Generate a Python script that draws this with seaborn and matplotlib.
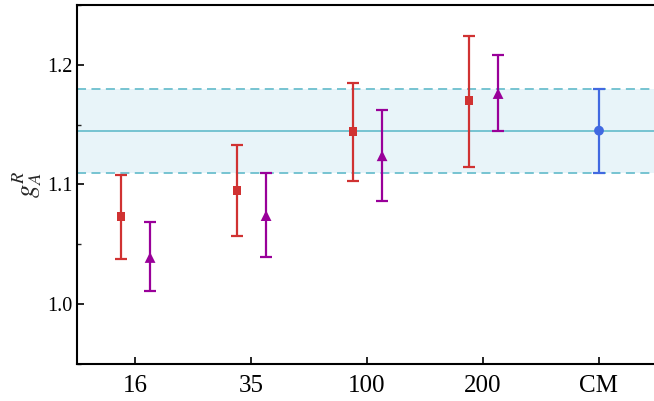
import matplotlib
matplotlib.use("Agg")
import matplotlib.pyplot as plt
import seaborn as sns
import numpy as np
import pandas as pd
from matplotlib.ticker import MultipleLocator

# Data
categories = ["16", "35", "100", "200", "CM"]
sq_val = [1.073, 1.095, 1.144, 1.170]
sq_lo = [1.038, 1.057, 1.103, 1.115]
sq_hi = [1.108, 1.133, 1.185, 1.224]
tri_val = [1.039, 1.074, 1.124, 1.176]
tri_lo = [1.011, 1.039, 1.086, 1.145]
tri_hi = [1.069, 1.110, 1.162, 1.208]
cm_val = [1.145]
cm_lo = [1.110]
cm_hi = [1.180]
band_center = 1.145
band_lo = 1.110
band_hi = 1.180

sns.set_theme(style="ticks")
plt.rcParams["font.family"] = ["Liberation Serif", "DejaVu Serif"]
plt.rcParams["mathtext.fontset"] = "stix"

fig = plt.figure(figsize=(6.54, 4.01), dpi=100)
ax = fig.add_axes([77/654, 37/401, 580/654, 359/401])

red = "#D03232"
purple = "#990099"
blue = "#4169E1"
cyan = "#6CBFCE"

ax.axhspan(band_lo, band_hi, color="#E8F4F9", zorder=0, lw=0)
ax.axhline(band_center, color=cyan, lw=1.3, zorder=1)
ax.axhline(band_lo, color=cyan, lw=1.3, ls=(0, (5, 3)), zorder=1)
ax.axhline(band_hi, color=cyan, lw=1.3, ls=(0, (5, 3)), zorder=1)

xpos = np.arange(len(categories))
xs = xpos[:4] - 0.12
xt = xpos[:4] + 0.13
xc = xpos[4:5]

def err(v, lo, hi):
    v = np.array(v); lo = np.array(lo); hi = np.array(hi)
    return np.vstack([v - lo, hi - v])

ax.errorbar(xs, sq_val, yerr=err(sq_val, sq_lo, sq_hi), fmt="none", ecolor=red,
            elinewidth=1.6, capsize=4, capthick=1.6, zorder=2)
ax.errorbar(xt, tri_val, yerr=err(tri_val, tri_lo, tri_hi), fmt="none", ecolor=purple,
            elinewidth=1.6, capsize=4, capthick=1.6, zorder=2)
ax.errorbar(xc, cm_val, yerr=err(cm_val, cm_lo, cm_hi), fmt="none", ecolor=blue,
            elinewidth=1.6, capsize=4, capthick=1.6, zorder=2)

sns.scatterplot(x=xs, y=sq_val, marker="s", s=40, color=red, edgecolor="none", ax=ax, zorder=3)
sns.scatterplot(x=xt, y=tri_val, marker="^", s=60, color=purple, edgecolor="none", ax=ax, zorder=3)
sns.scatterplot(x=xc, y=cm_val, marker="o", s=50, color=blue, edgecolor="none", ax=ax, zorder=3)

ax.set_xlim(-0.5, 4.5)
ax.set_ylim(0.95, 1.25)
ax.set_xticks(xpos)
ax.set_xticklabels(categories, fontsize=18)
ax.set_yticks([1.0, 1.1, 1.2])
ax.set_yticklabels(["1.0", "1.1", "1.2"], fontsize=14.5)
ax.yaxis.set_minor_locator(MultipleLocator(0.05))
ax.tick_params(axis="both", which="major", direction="in", length=5, width=1.2, colors="black")
ax.tick_params(axis="y", which="minor", direction="in", length=3, width=1.0)
ax.tick_params(axis="x", pad=8)
ax.set_ylabel(r"$g_A^R$", fontsize=19, labelpad=2)
for s in ax.spines.values():
    s.set_linewidth(1.5)
    s.set_color("black")

fig.savefig("out.png", dpi=100)
